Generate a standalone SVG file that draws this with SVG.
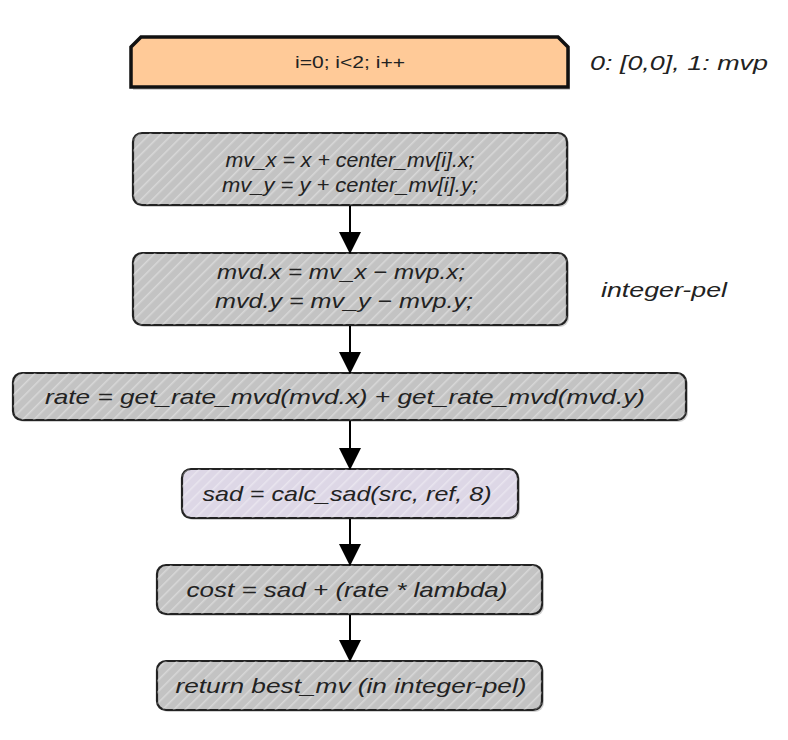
<svg xmlns="http://www.w3.org/2000/svg" width="788" height="740" viewBox="0 0 788 740">
<defs>
<pattern id="hatch" patternUnits="userSpaceOnUse" width="8" height="8" patternTransform="rotate(45)">
<rect width="8" height="8" fill="none"/>
<line x1="0" y1="0" x2="0" y2="8" stroke="#ffffff" stroke-opacity="0.35" stroke-width="3"/>
</pattern>
<marker id="arr" markerUnits="userSpaceOnUse" markerWidth="22" markerHeight="24" refX="21" refY="11" orient="auto">
<path d="M0,0 L22,11 L0,22 Z" fill="#000"/>
</marker>
</defs>
<style>
.box{stroke:#222;stroke-width:2.2}
.gray{fill:#c3c3c3}
.purple{fill:#ddd7e6}
.hat{fill:url(#hatch);stroke:none}
.sh{fill:#000;opacity:0.18}
.t{font-family:"Liberation Sans",Arial,sans-serif;font-style:italic;font-size:21px;fill:#222;text-anchor:middle}
.lbl{font-family:"Liberation Sans",Arial,sans-serif;font-style:italic;font-size:21px;fill:#222}
.conn{stroke:#000;stroke-width:2;fill:none}
</style>
<rect width="788" height="740" fill="#fff"/>

<g id="loop">
<polygon class="sh" points="143,40 560,40 570,50 570,90 133,90 133,50"/>
<polygon points="141,37 558,37 568,47 568,87 131,87 131,47" fill="#ffca98" stroke="#111" stroke-width="3.5"/>
<text x="350" y="68" font-family="Liberation Sans, Arial, sans-serif" font-size="16" fill="#222" text-anchor="middle" textLength="110" lengthAdjust="spacingAndGlyphs">i=0; i&lt;2; i++</text>
</g>
<g id="loop-label">
<text class="lbl" x="590" y="70" textLength="178" lengthAdjust="spacingAndGlyphs">0: [0,0], 1: mvp</text>
</g>

<g id="n1">
<rect class="sh" x="135" y="135" width="434" height="72" rx="9"/>
<rect class="box gray" x="133" y="133" width="434" height="72" rx="9"/>
<rect class="hat" x="133" y="133" width="434" height="72" rx="9"/>
<text class="t" x="350" y="167" textLength="249" lengthAdjust="spacingAndGlyphs">mv_x = x + center_mv[i].x;</text>
<text class="t" x="350" y="192" textLength="256" lengthAdjust="spacingAndGlyphs">mv_y = y + center_mv[i].y;</text>
</g>

<g id="n2">
<rect class="sh" x="135" y="255" width="434" height="72" rx="9"/>
<rect class="box gray" x="133" y="253" width="434" height="72" rx="9"/>
<rect class="hat" x="133" y="253" width="434" height="72" rx="9"/>
<text class="t" x="341" y="279" textLength="248" lengthAdjust="spacingAndGlyphs">mvd.x = mv_x − mvp.x;</text>
<text class="t" x="344" y="308" textLength="258" lengthAdjust="spacingAndGlyphs">mvd.y = mv_y − mvp.y;</text>
</g>
<g id="n2-label">
<text class="lbl" x="601" y="297" textLength="126" lengthAdjust="spacingAndGlyphs">integer-pel</text>
</g>

<g id="n3">
<rect class="sh" x="15" y="375" width="673" height="47" rx="9"/>
<rect class="box gray" x="13" y="373" width="673" height="47" rx="9"/>
<rect class="hat" x="13" y="373" width="673" height="47" rx="9"/>
<text class="t" x="345" y="404" textLength="600" lengthAdjust="spacingAndGlyphs">rate = get_rate_mvd(mvd.x) + get_rate_mvd(mvd.y)</text>
</g>

<g id="n4">
<rect class="sh" x="184" y="471" width="336" height="49" rx="9"/>
<rect class="box purple" x="182" y="469" width="336" height="49" rx="9"/>
<rect class="hat" x="182" y="469" width="336" height="49" rx="9"/>
<text class="t" x="347" y="501" textLength="289" lengthAdjust="spacingAndGlyphs">sad = calc_sad(src, ref, 8)</text>
</g>

<g id="n5">
<rect class="sh" x="159" y="567" width="385" height="49" rx="9"/>
<rect class="box gray" x="157" y="565" width="385" height="49" rx="9"/>
<rect class="hat" x="157" y="565" width="385" height="49" rx="9"/>
<text class="t" x="347" y="597" textLength="321" lengthAdjust="spacingAndGlyphs">cost = sad + (rate * lambda)</text>
</g>

<g id="n6">
<rect class="sh" x="159" y="663" width="385" height="49" rx="9"/>
<rect class="box gray" x="157" y="661" width="385" height="49" rx="9"/>
<rect class="hat" x="157" y="661" width="385" height="49" rx="9"/>
<text class="t" x="351" y="693" textLength="351" lengthAdjust="spacingAndGlyphs">return best_mv (in integer-pel)</text>
</g>

<g id="connectors">
<line class="conn" x1="350" y1="206" x2="350" y2="253" marker-end="url(#arr)"/>
<line class="conn" x1="350" y1="326" x2="350" y2="373" marker-end="url(#arr)"/>
<line class="conn" x1="350" y1="421" x2="350" y2="469" marker-end="url(#arr)"/>
<line class="conn" x1="350" y1="519" x2="350" y2="565" marker-end="url(#arr)"/>
<line class="conn" x1="350" y1="615" x2="350" y2="661" marker-end="url(#arr)"/>
</g>
</svg>
